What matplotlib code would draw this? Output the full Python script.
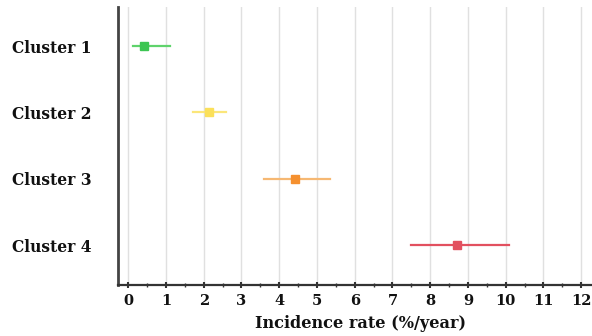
import matplotlib
matplotlib.use('Agg')
from matplotlib import pyplot as plt
from matplotlib.ticker import MultipleLocator

clusters = ['Cluster 1', 'Cluster 2', 'Cluster 3', 'Cluster 4']
rate = [0.42, 2.14, 4.42, 8.7]
lower = [0.13, 1.72, 3.6, 7.5]
upper = [1.11, 2.59, 5.34, 10.1]
line_colors = ['#5fd36c', '#fbe67a', '#f6b873', '#e2505f']
marker_colors = ['#3cc552', '#fbe05a', '#f5902f', '#e2505f']

plt.rcParams['font.family'] = ['DejaVu Serif']

fig = plt.figure(figsize=(5.92, 3.36), dpi=100)
ax = fig.add_axes([118 / 592, 1 - 285 / 336, 1 - 118 / 592 + 0.02, (285 - 7) / 336])

for i, name in enumerate(clusters):
    y = i + 1
    ax.plot([lower[i], upper[i]], [y, y], color=line_colors[i], lw=1.6, zorder=3)
    ax.plot(rate[i], y, marker='s', ms=6, color=marker_colors[i], zorder=4)

ax.set_xlim(-0.27, 12.6)
ax.set_ylim(4.6, 0.41)
ax.set_yticks(range(1, 5))
ax.set_yticklabels(clusters, fontsize=11.2, fontweight='bold', color='#111111', ha='left')
# labels start at the left edge of the figure, like the reference
ax.tick_params(axis='y', length=0, pad=76)

ax.xaxis.set_major_locator(MultipleLocator(1))
ax.xaxis.set_minor_locator(MultipleLocator(0.5))
ax.tick_params(axis='x', which='major', length=5, width=1.5, direction='inout', labelsize=10.5, pad=4, color='#333333')
ax.tick_params(axis='x', which='minor', length=3, width=1, direction='inout', color='#333333')
for lab in ax.get_xticklabels():
    lab.set_fontweight('bold')
    lab.set_color('#111111')
ax.set_xlabel('Incidence rate (%/year)', fontsize=11.6, fontweight='bold', labelpad=5, color='#111111')

ax.grid(axis='x', which='major', color='#e0e0e0', lw=1.0)
ax.set_axisbelow(True)
for s in ['top', 'right']:
    ax.spines[s].set_visible(False)
ax.spines['left'].set_color('#444444')
ax.spines['left'].set_linewidth(2)
ax.spines['bottom'].set_color('#333333')
ax.spines['bottom'].set_linewidth(1.6)

fig.savefig('out.png', dpi=100)
